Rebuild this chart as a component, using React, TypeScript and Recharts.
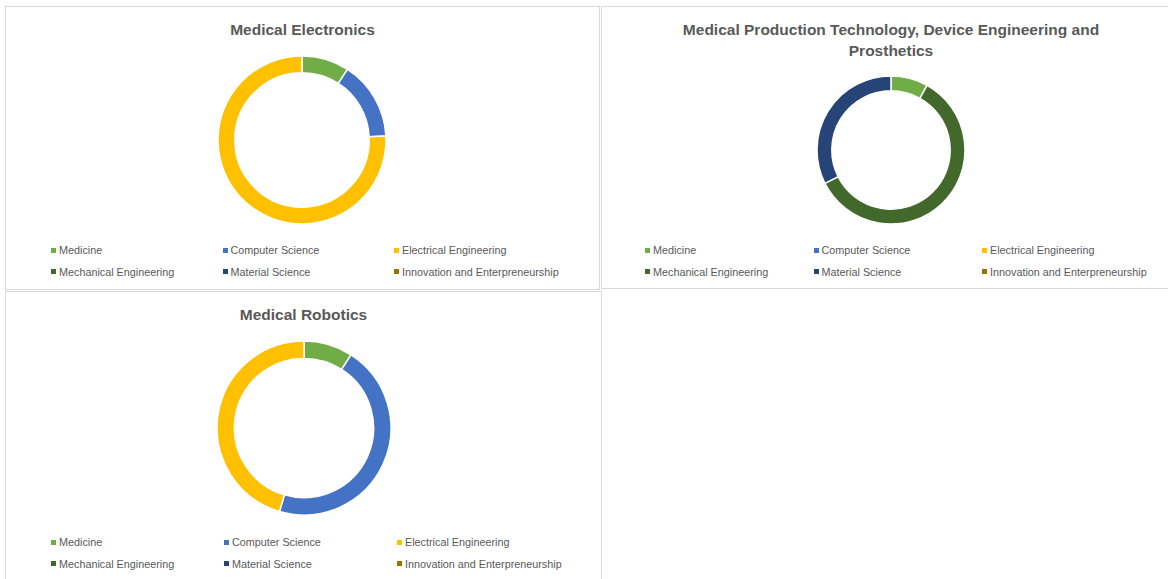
import React from 'react';
import { Cell, Pie, PieChart } from 'recharts';

const categories = [
  'Medicine',
  'Computer Science',
  'Electrical Engineering',
  'Mechanical Engineering',
  'Material Science',
  'Innovation and Enterpreneurship',
];

const categoryColors = ['#70AD47', '#4472C4', '#FFC000', '#43682B', '#264478', '#997300'];

// number of courses per field
const electronicsValues = [3, 5, 25, 0, 0, 0];
const productionValues = [3, 0, 0, 22, 12, 0];
const roboticsValues = [3, 15, 15, 0, 0, 0];

const FONT = '"Liberation Sans", Arial, sans-serif';
const TEXT_COLOR = '#595959';

interface PanelProps {
  title: string[];
  values: number[];
  left: number;
  top: number;
  width: number;
  height: number;
  cx: number;
  cy: number;
  outerRadius: number;
  legendTop: number;
  legendLeft: number;
  columnWidth: number;
}

function DonutPanel({
  title,
  values,
  left,
  top,
  width,
  height,
  cx,
  cy,
  outerRadius,
  legendTop,
  legendLeft,
  columnWidth,
}: PanelProps) {
  const data = categories
    .map((name, i) => ({ name, value: values[i], color: categoryColors[i] }))
    .filter((d) => d.value > 0);

  return (
    <div
      style={{
        position: 'absolute',
        left,
        top,
        width,
        height,
        border: '1px solid #D9D9D9',
        boxSizing: 'border-box',
        background: '#FFFFFF',
      }}
    >
      <div
        style={{
          position: 'absolute',
          left: 0,
          top: 12,
          width: '100%',
          textAlign: 'center',
          fontFamily: FONT,
          fontWeight: 'bold',
          fontSize: 15.5,
          lineHeight: '21px',
          color: TEXT_COLOR,
        }}
      >
        {title.map((line) => (
          <div key={line}>{line}</div>
        ))}
      </div>
      <div style={{ position: 'absolute', left: 0, top: 0 }}>
        <PieChart
          width={width - 2}
          height={height - 2}
          margin={{ top: 0, right: 0, bottom: 0, left: 0 }}
        >
          <Pie
            data={data}
            dataKey="value"
            nameKey="name"
            cx={cx}
            cy={cy}
            outerRadius={outerRadius}
            innerRadius={outerRadius * 0.8}
            startAngle={90}
            endAngle={-270}
            stroke="#FFFFFF"
            strokeWidth={1.5}
            isAnimationActive={false}
          >
            {data.map((entry) => (
              <Cell key={entry.name} fill={entry.color} />
            ))}
          </Pie>
        </PieChart>
      </div>
      {categories.map((name, i) => (
        <div
          key={name}
          style={{
            position: 'absolute',
            left: legendLeft + (i % 3) * columnWidth,
            top: legendTop + Math.floor(i / 3) * 21.5,
            height: 14,
            display: 'flex',
            alignItems: 'center',
            whiteSpace: 'nowrap',
            fontFamily: FONT,
            fontSize: 10.8,
            color: TEXT_COLOR,
          }}
        >
          <span
            style={{
              display: 'inline-block',
              width: 5,
              height: 5,
              background: categoryColors[i],
              marginRight: 3,
            }}
          />
          {name}
        </div>
      ))}
    </div>
  );
}

export default function App() {
  return (
    <div
      style={{
        position: 'absolute',
        left: 0,
        top: 0,
        width: 1168,
        height: 579,
        overflow: 'hidden',
        background: '#FFFFFF',
      }}
    >
      <DonutPanel
        title={['Medical Electronics']}
        values={electronicsValues}
        left={5}
        top={6}
        width={595}
        height={284}
        cx={296}
        cy={133}
        outerRadius={84}
        legendTop={236}
        legendLeft={45}
        columnWidth={171.5}
      />
      <DonutPanel
        title={['Medical Production Technology, Device Engineering and', 'Prosthetics']}
        values={productionValues}
        left={601}
        top={6}
        width={580}
        height={283}
        cx={289}
        cy={143}
        outerRadius={74}
        legendTop={236}
        legendLeft={43}
        columnWidth={168.5}
      />
      <DonutPanel
        title={['Medical Robotics']}
        values={roboticsValues}
        left={5}
        top={291}
        width={597}
        height={300}
        cx={298}
        cy={136}
        outerRadius={87}
        legendTop={243}
        legendLeft={45}
        columnWidth={173}
      />
    </div>
  );
}
